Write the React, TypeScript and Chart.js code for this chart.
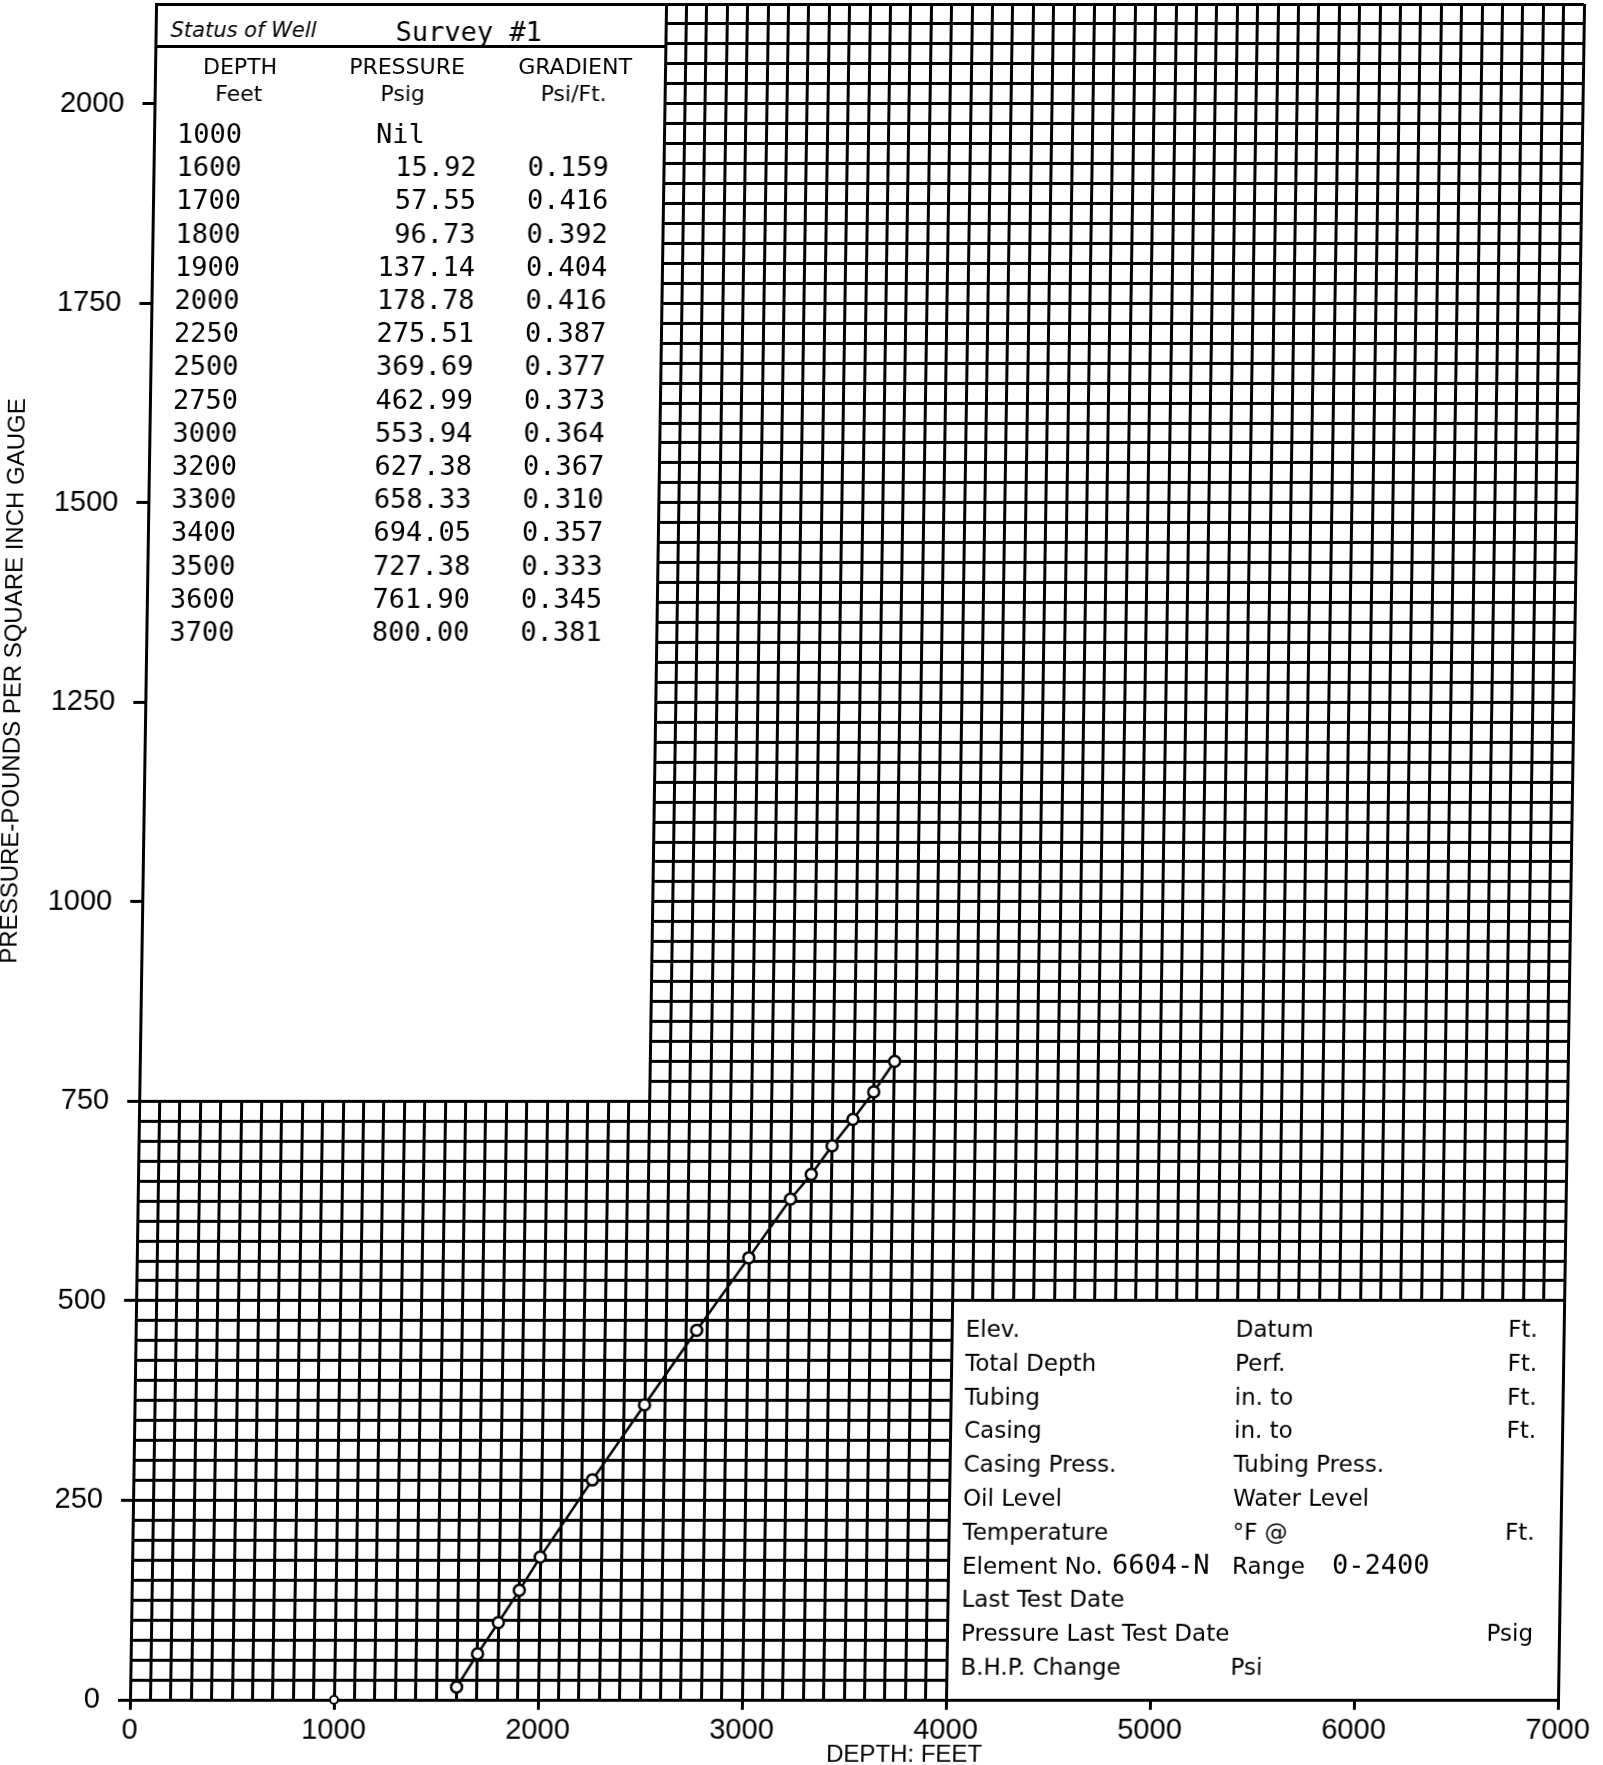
import React, { useEffect, useRef } from 'react';
import { Chart, registerables } from 'chart.js';

Chart.register(...registerables);

// ---- data ----
const depthFeet = [1600, 1700, 1800, 1900, 2000, 2250, 2500, 2750, 3000, 3200, 3300, 3400, 3500, 3600, 3700];
const pressurePsig = [15.92, 57.55, 96.73, 137.14, 178.78, 275.51, 369.69, 462.99, 553.94, 627.38, 658.33, 694.05, 727.38, 761.9, 800.0];
const gradientPsiPerFt = [0.159, 0.416, 0.392, 0.404, 0.416, 0.387, 0.377, 0.373, 0.364, 0.367, 0.31, 0.357, 0.333, 0.345, 0.381];
const nilDepthFeet = [1000];
const nilPressurePsig = [0];

const xLabelTicks = [0, 1000, 2000, 3000, 4000, 5000, 6000, 7000];
const yLabelTicks = [0, 250, 500, 750, 1000, 1250, 1500, 1750, 2000];

const xTitle = 'DEPTH: FEET';
const yTitle = 'PRESSURE-POUNDS PER SQUARE INCH GAUGE';

const statusLabel = 'Status of Well';
const surveyLabel = 'Survey #1';
const tableHeadTop = ['DEPTH', 'PRESSURE', 'GRADIENT'];
const tableHeadBottom = ['Feet', 'Psig', 'Psi/Ft.'];
const nilText = 'Nil';

const infoLeft = ['Elev.', 'Total Depth', 'Tubing', 'Casing', 'Casing Press.', 'Oil Level', 'Temperature', 'Element No.', 'Last Test Date', 'Pressure Last Test Date', 'B.H.P. Change'];
const infoMiddle = ['Datum', 'Perf.', 'in. to', 'in. to', 'Tubing Press.', 'Water Level', '°F @', 'Range', '', '', 'Psi'];
const infoRight = ['Ft.', 'Ft.', 'Ft.', 'Ft.', '', '', 'Ft.', '', '', 'Psig', ''];
const elementNo = '6604-N';
const rangeText = '0-2400';

// ---- layout ----
const OFF = 30;
const W = 1603 + OFF;
const H = 1765;
const LW = 3;
const SANS = '"DejaVu Sans"';
const MONO = '"DejaVu Sans Mono"';

const al = (p: number) => Math.round(p - LW / 2) + LW / 2;

const overlayPlugin = {
  id: 'overlay',
  beforeDatasetsDraw(chart: any) {
    const { ctx } = chart;
    const x = chart.scales.x;
    const y = chart.scales.y;
    const h = LW / 2;
    ctx.save();
    ctx.fillStyle = '#fff';
    // table box
    const tl = al(x.getPixelForValue(0)) + h;
    const tr = al(x.getPixelForValue(2500)) - h;
    const tt = al(y.getPixelForValue(2125)) + h;
    const tb = al(y.getPixelForValue(750)) - h;
    ctx.fillRect(tl, tt, tr - tl, tb - tt);
    // info box
    const il = al(x.getPixelForValue(4000)) + h;
    const ir = al(x.getPixelForValue(7000)) - h;
    const it = al(y.getPixelForValue(500)) + h;
    const ib = al(y.getPixelForValue(0)) - h;
    ctx.fillRect(il, it, ir - il, ib - it);

    // header underline
    ctx.strokeStyle = '#000';
    ctx.lineWidth = LW;
    ctx.beginPath();
    ctx.moveTo(tl, 46.5);
    ctx.lineTo(tr + 1, 46.5);
    ctx.stroke();

    ctx.fillStyle = '#000';
    ctx.textBaseline = 'alphabetic';
    const txt = (s: string, px: number, py: number, font: string, align: string = 'left') => {
      ctx.font = font;
      ctx.textAlign = align;
      ctx.fillText(s, px + OFF, py);
    };

    txt(statusLabel, 145, 37, `italic 21px ${SANS}`);
    txt(surveyLabel, 370, 41, `27px ${MONO}`);
    const headX = [215, 382, 550];
    const headX2 = [214, 378, 549];
    tableHeadTop.forEach((s, i) => txt(s, headX[i], 74, `22px ${SANS}`, 'center'));
    tableHeadBottom.forEach((s, i) => txt(s, headX2[i], 101, `22px ${SANS}`, 'center'));

    const rowY = (i: number) => 143 + 33.2 * i;
    const dataFont = `27px ${MONO}`;
    txt(String(nilDepthFeet[0]), 153, rowY(0), dataFont);
    txt(nilText, 352, rowY(0), dataFont);
    depthFeet.forEach((d, i) => {
      const r = rowY(i + 1);
      txt(String(d), 153, r, dataFont);
      txt(pressurePsig[i].toFixed(2), 453, r, dataFont, 'right');
      txt(gradientPsiPerFt[i].toFixed(3), 504, r, dataFont);
    });

    // info box text
    const infoY = (i: number) => 1337 + 33.8 * i;
    const infoFont = `23px ${SANS}`;
    infoLeft.forEach((s, i) => txt(s, 960, infoY(i), infoFont));
    infoMiddle.forEach((s, i) => txt(s, 1230, infoY(i), infoFont));
    infoRight.forEach((s, i) => txt(s, 1532, infoY(i), infoFont, 'right'));
    txt(elementNo, 1110, infoY(7), dataFont);
    txt(rangeText, 1330, infoY(7), dataFont);
    ctx.restore();
  },
  afterDraw(chart: any) {
    const { ctx } = chart;
    ctx.save();
    ctx.fillStyle = '#000';
    ctx.textBaseline = 'alphabetic';
    ctx.textAlign = 'center';
    ctx.font = '24px "Liberation Sans"';
    ctx.fillText(xTitle, 935, 1762);
    ctx.translate(OFF + 4.5, 681);
    ctx.rotate(-Math.PI / 2);
    ctx.fillText(yTitle, 0, 0);
    ctx.restore();
  },
};

export default function App() {
  const ref = useRef<HTMLCanvasElement | null>(null);
  useEffect(() => {
    if (!ref.current) return;
    const chart = new Chart(ref.current, {
      type: 'scatter',
      data: {
        datasets: [
          {
            data: depthFeet.map((d, i) => ({ x: d, y: pressurePsig[i] })),
            showLine: true,
            borderColor: '#000',
            borderWidth: 2.5,
            pointRadius: 5.5,
            pointBorderWidth: 2.5,
            pointBackgroundColor: '#fff',
            pointBorderColor: '#000',
            tension: 0,
            clip: false,
          },
          {
            data: nilDepthFeet.map((d, i) => ({ x: d, y: nilPressurePsig[i] })),
            showLine: false,
            pointRadius: 4,
            pointBorderWidth: 2,
            pointBackgroundColor: '#fff',
            pointBorderColor: '#000',
            clip: false,
          },
        ],
      },
      options: {
        responsive: false,
        animation: false,
        devicePixelRatio: 1,
        events: [],
        layout: { padding: { left: OFF, top: 4, right: 45, bottom: 0 }, autoPadding: false },
        plugins: { legend: { display: false }, tooltip: { enabled: false }, title: { display: false } },
        scales: {
          x: {
            type: 'linear',
            min: 0,
            max: 7000,
            afterFit: (s: any) => {
              s.height = 65;
              s.paddingLeft = 0;
              s.paddingRight = 0;
            },
            ticks: {
              stepSize: 100,
              autoSkip: false,
              maxRotation: 0,
              minRotation: 0,
              padding: 4,
              color: '#000',
              font: { family: 'Liberation Sans', size: 29 },
              callback: (v: any) => (xLabelTicks.includes(Number(v)) ? String(v) : ''),
            },
            grid: {
              color: '#000',
              lineWidth: LW,
              tickLength: 10,
              tickWidth: LW,
              tickColor: (c: any) => (c.tick && xLabelTicks.includes(c.tick.value) ? '#000' : 'rgba(0,0,0,0)'),
            },
            border: { color: '#000', width: LW },
          },
          y: {
            type: 'linear',
            min: 0,
            max: 2125,
            afterFit: (s: any) => {
              s.width = 130;
              s.paddingTop = 0;
              s.paddingBottom = 0;
            },
            ticks: {
              stepSize: 25,
              autoSkip: false,
              padding: 18,
              color: '#000',
              font: { family: 'Liberation Sans', size: 29 },
              callback: (v: any) => (yLabelTicks.includes(Number(v)) ? String(v) : ''),
            },
            grid: {
              color: '#000',
              lineWidth: LW,
              tickLength: 12,
              tickWidth: LW,
              tickColor: (c: any) => (c.tick && yLabelTicks.includes(c.tick.value) ? '#000' : 'rgba(0,0,0,0)'),
            },
            border: { color: '#000', width: LW },
          },
        },
      },
      plugins: [overlayPlugin],
    } as any);
    return () => chart.destroy();
  }, []);

  return (
    <div style={{ position: 'absolute', left: 0, top: 0, width: 1603, height: 1765, overflow: 'hidden', background: '#fff' }}>
      <canvas
        ref={ref}
        width={W}
        height={H}
        style={{
          position: 'absolute',
          left: -OFF,
          top: 0,
          width: W,
          height: H,
          transform: 'skewX(-0.88deg)',
          transformOrigin: '0 1700px',
        }}
      />
    </div>
  );
}
